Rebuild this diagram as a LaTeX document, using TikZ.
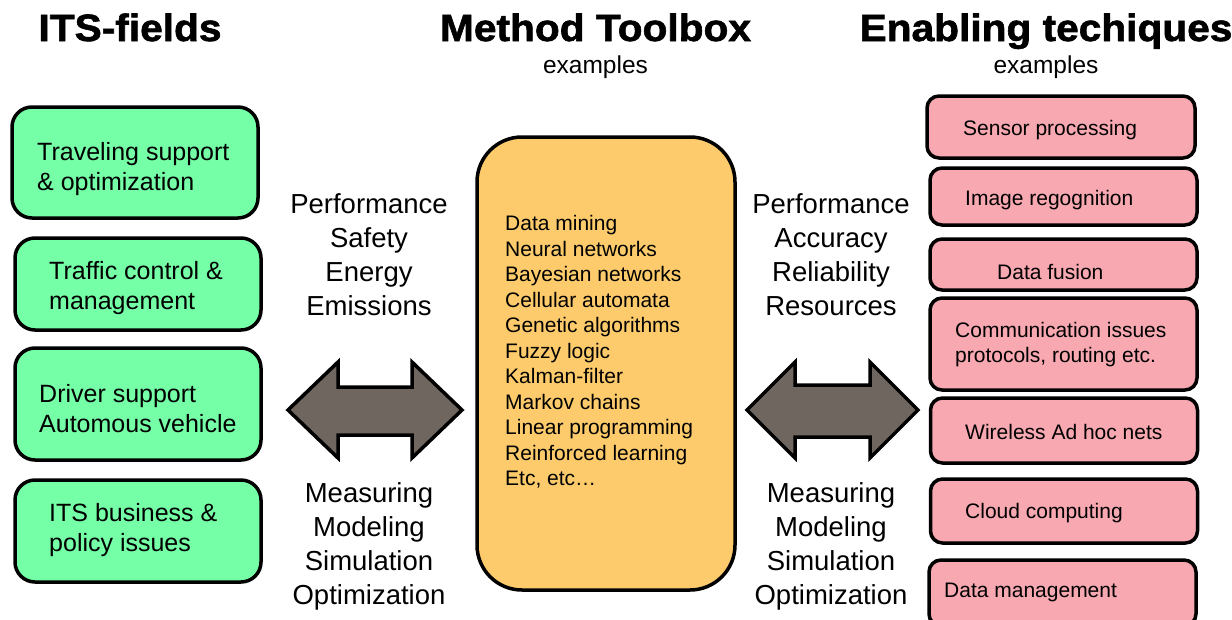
\documentclass[tikz,border=0pt]{standalone}
\usepackage{fontspec}
\setmainfont{Liberation Sans}
\newfontfamily\titlefont[FakeBold=1.6,FakeStretch=1.07]{Liberation Sans Bold}
\definecolor{fieldgreen}{RGB}{117,255,166}
\definecolor{techpink}{RGB}{247,168,176}
\definecolor{toolorange}{RGB}{253,203,107}
\definecolor{arrowgray}{RGB}{111,102,96}
\begin{document}
\begin{tikzpicture}[x=1pt,y=-1pt,
  fieldbox/.style={draw=black, line width=3.5pt, fill=fieldgreen, rounded corners=20pt, inner sep=0pt, minimum width=246pt},
  fieldtext/.style={anchor=west, inner sep=0pt, yshift=-3pt, align=left, font=\fontsize{25}{30}\selectfont},
  techbox/.style={draw=black, line width=3.5pt, fill=techpink, rounded corners=12pt, inner sep=0pt, minimum width=267pt},
  techtext/.style={anchor=west, inner sep=0pt, yshift=-2pt, align=left, font=\fontsize{21}{25}\selectfont},
  toolboxshape/.style={draw=black, line width=3.5pt, fill=toolorange, rounded corners=45pt, inner sep=0pt},
  tooltextstyle/.style={anchor=west, align=left, inner sep=0pt, yshift=-2pt, font=\fontsize{21}{25.5}\selectfont},
  measure/.style={align=center, inner sep=0pt, font=\fontsize{27.5}{34}\selectfont},
  heading/.style={anchor=base, inner sep=0pt, font=\titlefont\fontsize{38}{44}\selectfont},
  subheading/.style={anchor=base, inner sep=0pt, font=\fontsize{24.5}{28}\selectfont},
  bigarrow/.style={draw=black, line width=3.5pt, fill=arrowgray, line join=miter}]
\useasboundingbox (0,0) rectangle (1232,619);

% headings
\node[heading] (h1) at (130,41) {ITS-fields};
\node[heading] (h2) at (595.5,41) {Method Toolbox};
\node[heading] (h3) at (1046,41) {Enabling techiques};
\node[subheading] (s2) at (595.5,73) {examples};
\node[subheading] (s3) at (1046,73) {examples};

% ITS fields
\node[fieldbox, minimum height=111pt] (f1) at (135,162.5) {};
\node[fieldbox, minimum height=92pt] (f2) at (138,284) {};
\node[fieldbox, minimum height=112pt] (f3) at (138,404) {};
\node[fieldbox, minimum height=102pt] (f4) at (138,531) {};
\node[fieldtext] (f1t) at (37,166) {Traveling support\\ \& optimization};
\node[fieldtext] (f2t) at (49,285) {Traffic control \&\\ management};
\node[fieldtext] (f3t) at (39,406) {Driver support\\ Automous vehicle};
\node[fieldtext] (f4t) at (49,527) {ITS business \&\\ policy issues};

% toolbox
\node[toolboxshape, minimum width=258pt, minimum height=453pt] (tb) at (606,363.5) {};
\node[tooltextstyle] (tt) at (505,350) {Data mining\\ Neural networks\\ Bayesian networks\\ Cellular automata\\ Genetic algorithms\\ Fuzzy logic\\ Kalman-filter\\ Markov chains\\ Linear programming\\ Reinforced learning\\ Etc, etc\ldots};

% enabling techniques
\node[techbox, minimum width=268pt, minimum height=62pt] (t1) at (1061,127) {};
\node[techbox, minimum height=57pt] (t2) at (1063.5,196.5) {};
\node[techbox, minimum height=51pt] (t3) at (1063.5,264.5) {};
\node[techbox, minimum height=92pt] (t4) at (1063.5,344) {};
\node[techbox, minimum height=65pt] (t5) at (1064,430.5) {};
\node[techbox, minimum height=64pt] (t6) at (1064,511) {};
\node[techbox, minimum height=66pt] (t7) at (1062.5,593) {};
\node[techtext] (t1t) at (963,128) {Sensor processing};
\node[techtext] (t2t) at (965,198) {Image regognition};
\node[techtext] (t3t) at (997,270) {Data fusion};
\node[techtext] (t4t) at (955,342.5) {Communication issues\\ protocols, routing etc.};
\node[techtext] (t5t) at (965,430) {Wireless Ad hoc nets};
\node[techtext] (t6t) at (965,511) {Cloud computing};
\node[techtext] (t7t) at (944,590) {Data management};

% measures
\node[measure] (m1) at (369,254.5) {Performance\\ Safety\\ Energy\\ Emissions};
\node[measure] (m2) at (369,546) {Measuring\\ Modeling\\ Simulation\\ Optimization};
\node[measure] (m3) at (831,254.5) {Performance\\ Accuracy\\ Reliability\\ Resources};
\node[measure] (m4) at (831,546) {Measuring\\ Modeling\\ Simulation\\ Optimization};

% double arrows
\draw[bigarrow] (288,410) -- (338,362) -- (338,387) -- (412,387) -- (412,362) -- (462,410) -- (412,458) -- (412,435) -- (338,435) -- (338,458) -- cycle;
\draw[bigarrow] (747,410) -- (795,362) -- (795,385) -- (870,385) -- (870,362) -- (918,410) -- (870,458) -- (870,437) -- (795,437) -- (795,458) -- cycle;
\end{tikzpicture}
\end{document}
